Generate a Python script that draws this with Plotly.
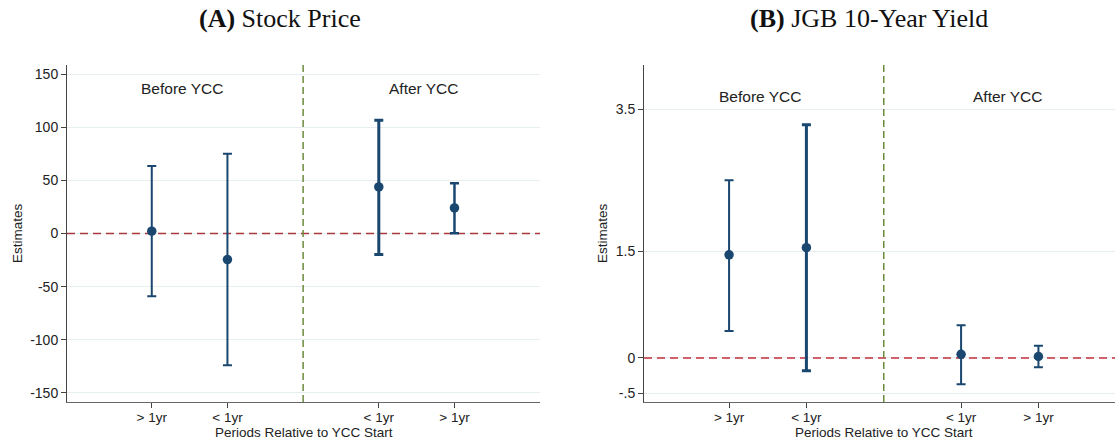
import plotly.graph_objects as go

W, H = 1115, 439

# ---- data ----
positions = [-2, -1, 1, 2]
tick_labels = ["> 1yr", "< 1yr", "< 1yr", "> 1yr"]

stock_est = [2.2, -24.5, 43.8, 24.1]
stock_hi = [63.6, 74.9, 106.6, 47.3]
stock_lo = [-59.0, -124.0, -19.8, 0.3]

jgb_est = [1.45, 1.55, 0.05, 0.02]
jgb_hi = [2.50, 3.28, 0.46, 0.17]
jgb_lo = [0.38, -0.18, -0.37, -0.13]

stock_yticks = [-150, -100, -50, 0, 50, 100, 150]
stock_yticktext = ["-150", "-100", "-50", "0", "50", "100", "150"]
jgb_yticks = [-0.5, 0, 1.5, 3.5]
jgb_yticktext = ["-.5", "0", "1.5", "3.5"]

ycc_start = 0      # position of the YCC start divider
null_effect = 0    # horizontal reference value

# ---- styles ----
navy = "#1a476f"
stock_thick = [2, 2, 3, 2.5]
jgb_thick = [2, 3, 2, 2]

stock_xrange = [-3.12, 3.13]
stock_yrange = [-158.5, 158.5]
jgb_xrange = [-3.1, 2.99]
jgb_yrange = [-0.62, 4.12]

fig = go.Figure()

def px_x(p):
    return p / W

def px_y(p):
    return 1 - p / H

L_dom = [px_x(67), px_x(540)]
R_dom = [px_x(644), px_x(1115)]
Y_dom = [px_y(402), px_y(65)]

def add_panel(est, hi, lo, thick, xa, ya, xr, yr, zcolor):
    fig.add_trace(go.Scatter(x=xr, y=[null_effect, null_effect], xaxis=xa, yaxis=ya,
                             mode="lines", line=dict(color=zcolor, width=1.5, dash="8px,5px"),
                             showlegend=False, hoverinfo="skip", cliponaxis=True))
    fig.add_trace(go.Scatter(x=[ycc_start, ycc_start], y=yr, xaxis=xa, yaxis=ya,
                             mode="lines", line=dict(color="#6b8a3a", width=1.5, dash="7px,4px"),
                             showlegend=False, hoverinfo="skip", cliponaxis=True))
    for i in range(len(positions)):
        fig.add_trace(go.Scatter(
            x=[positions[i]], y=[est[i]], xaxis=xa, yaxis=ya,
            mode="markers",
            marker=dict(color=navy, size=9.5, symbol="circle"),
            error_y=dict(type="data", symmetric=False,
                         array=[hi[i] - est[i]], arrayminus=[est[i] - lo[i]],
                         color=navy, thickness=thick[i], width=4.5),
            showlegend=False, hoverinfo="skip"))

add_panel(stock_est, stock_hi, stock_lo, stock_thick, "x", "y",
          stock_xrange, stock_yrange, "#a83a3e")
add_panel(jgb_est, jgb_hi, jgb_lo, jgb_thick, "x2", "y2",
          jgb_xrange, jgb_yrange, "#c4303a")

tickfont = dict(family="Liberation Sans, Arial, sans-serif", size=14, color="#222")
xtickfont = dict(family="Liberation Sans, Arial, sans-serif", size=13.5, color="#222")
common_x = dict(tickmode="array", tickvals=positions, ticktext=tick_labels,
                ticks="outside", ticklen=5, tickcolor="#444", tickfont=xtickfont,
                showgrid=False, zeroline=False, showline=True, linecolor="#666",
                linewidth=1, fixedrange=True, ticklabelstandoff=-2)
common_y = dict(ticks="outside", ticklen=5, tickcolor="#444", tickfont=tickfont,
                showgrid=True, gridcolor="#e6eef0", gridwidth=1, zeroline=False,
                showline=True, linecolor="#444", linewidth=1, fixedrange=True)

fig.update_layout(
    width=W, height=H, margin=dict(l=0, r=0, t=0, b=0),
    paper_bgcolor="white", plot_bgcolor="white",
    xaxis=dict(domain=L_dom, range=stock_xrange, anchor="y", **common_x),
    yaxis=dict(domain=Y_dom, range=stock_yrange, anchor="x",
               tickvals=stock_yticks, ticktext=stock_yticktext, **common_y),
    xaxis2=dict(domain=R_dom, range=jgb_xrange, anchor="y2", **common_x),
    yaxis2=dict(domain=Y_dom, range=jgb_yrange, anchor="x2",
                tickvals=jgb_yticks, ticktext=jgb_yticktext, **common_y),
)

def ann(x, y, text, font, xref="paper", yref="paper", angle=0):
    fig.add_annotation(x=x, y=y, xref=xref, yref=yref, text=text, showarrow=False,
                       font=font, xanchor="center", yanchor="middle", textangle=angle)

lab = dict(family="Liberation Sans, Arial, sans-serif", size=15.5, color="#222")
ann(-1.6, 136.7, "Before YCC", lab, "x", "y")
ann(1.6, 136.7, "After YCC", lab, "x", "y")
ann(-1.6, 3.67, "Before YCC", lab, "x2", "y2")
ann(1.6, 3.67, "After YCC", lab, "x2", "y2")

axt = dict(family="Liberation Sans, Arial, sans-serif", size=13.5, color="#222")
ann(px_x(304), px_y(432), "Periods Relative to YCC Start", axt)
ann(px_x(884), px_y(432), "Periods Relative to YCC Start", axt)
ann(px_x(17), px_y(233), "Estimates", axt, angle=-90)
ann(px_x(602), px_y(233), "Estimates", axt, angle=-90)

tf = dict(family="Liberation Serif, Times New Roman, serif", size=26, color="#111")
ann(px_x(280), px_y(19), "<b>(A)</b> Stock Price", tf)
ann(px_x(869), px_y(19), "<b>(B)</b> JGB 10-Year Yield", tf)

fig.write_html("out.html")
